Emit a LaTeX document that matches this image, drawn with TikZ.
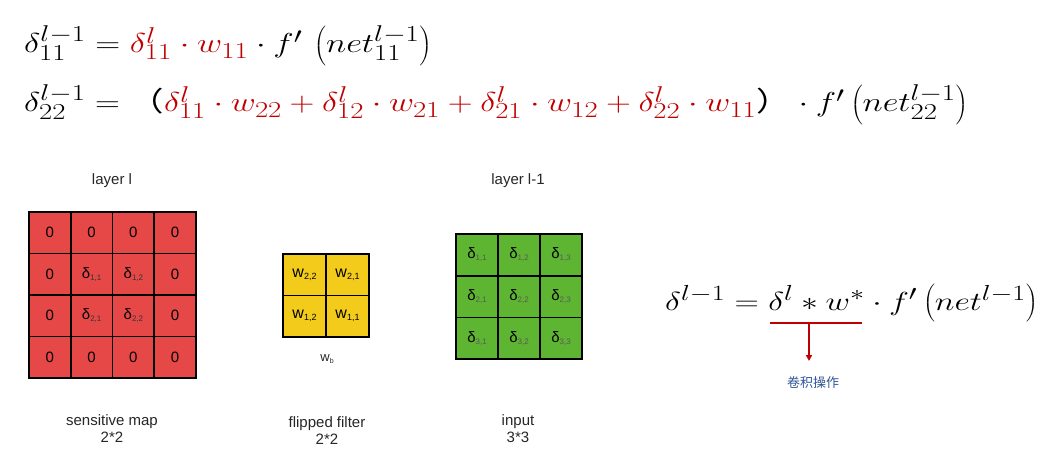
\documentclass[tikz,border=0pt]{standalone}
\usepackage{fontspec}
\usepackage{graphicx}
\setsansfont{Liberation Sans}
\newfontfamily\cjkfont{Noto Sans CJK SC}
\usetikzlibrary{arrows.meta}

\definecolor{mapred}{HTML}{E64848}
\definecolor{filteryellow}{HTML}{F2CB1B}
\definecolor{inputgreen}{HTML}{5EB532}
\definecolor{eqred}{HTML}{C00000}
\definecolor{noteblue}{HTML}{2E5597}

% delta / weight with a small lowered index
\newcommand{\dcell}[2][black!80]{δ\raisebox{-2pt}{\fontsize{8}{8}\selectfont\color{#1}#2}}
\newcommand{\wcell}[1]{w\raisebox{-2pt}{\fontsize{9}{9}\selectfont #1}}
\newcommand{\eqsize}{\fontsize{24.88}{30}\selectfont}

\tikzset{
  cell/.style={draw=black, line width=1.8pt, inner sep=0pt, outer sep=0pt,
    font=\sffamily\fontsize{15}{15}\selectfont},
  mapcell/.style={cell, fill=mapred, minimum width=41.75pt, minimum height=41.5pt},
  filtercell/.style={cell, fill=filteryellow, minimum width=43pt, minimum height=41.5pt,
    font=\sffamily\fontsize{16}{16}\selectfont},
  inputcell/.style={cell, fill=inputgreen, minimum width=42pt, minimum height=41.7pt},
  caption/.style={font=\sffamily\fontsize{15}{17}\selectfont, align=center, text=black!85}
}

\begin{document}
\begin{tikzpicture}[x=1pt, y=-1pt]
    \useasboundingbox (0,0) rectangle (1057,457);
    % Equations on top
    \node[anchor=base west, inner sep=0pt] (eqA) at (24,53) {\eqsize\scalebox{1.39}[1.1]{%
      $\delta^{l-1}_{11} = {\color{eqred}\delta^{l}_{11}\cdot w_{11}}\cdot f'\,\left(net^{l-1}_{11}\right)$}};
    \node[anchor=base west, inner sep=0pt] (eqB) at (24,112) {\eqsize\scalebox{1.385}[1.1]{%
      $\delta^{l-1}_{22} = \mbox{\cjkfont （}{\color{eqred}\delta^{l}_{11}\cdot w_{22}+\delta^{l}_{12}\cdot w_{21}
      +\delta^{l}_{21}\cdot w_{12}+\delta^{l}_{22}\cdot w_{11}}\mbox{\cjkfont ）}\cdot f'\left(net^{l-1}_{22}\right)$}};
    % Sensitive map (padded)
    \node[caption] (mapTop) at (112,181) {layer l};
    \foreach \t [count=\i from 0] in {0,0,0,0, 0,{\dcell{1,1}},{\dcell{1,2}},0,
        0,{\dcell{2,1}},{\dcell{2,2}},0, 0,0,0,0}{
      \pgfmathtruncatemacro\r{div(\i,4)}
      \pgfmathtruncatemacro\c{mod(\i,4)}
      \node[mapcell] (m\r\c) at (49.9+41.75*\c, 232.75+41.5*\r) {\t};
    }
    \node[caption] (mapBot) at (112,429) {sensitive map\\2*2};
    % Flipped filter
    \foreach \t [count=\i from 0] in {{\wcell{2,2}},{\wcell{2,1}},{\wcell{1,2}},{\wcell{1,1}}}{
      \pgfmathtruncatemacro\r{div(\i,2)}
      \pgfmathtruncatemacro\c{mod(\i,2)}
      \node[filtercell] (f\r\c) at (304.5+43*\c, 274.75+41.5*\r) {\t};
    }
    \node[caption, font=\sffamily\fontsize{13}{13}\selectfont] (wb) at (327,359) {w\raisebox{-2pt}{\fontsize{7}{7}\selectfont b}};
    \node[caption] (filterBot) at (327,431) {flipped filter\\2*2};
    % Input (layer l-1)
    \node[caption] (inTop) at (518,181) {layer l-1};
    \foreach \t [count=\i from 0] in {{\dcell[black!65]{1,1}},{\dcell[black!65]{1,2}},{\dcell[black!65]{1,3}},
        {\dcell[black!65]{2,1}},{\dcell[black!65]{2,2}},{\dcell[black!65]{2,3}},
        {\dcell[black!65]{3,1}},{\dcell[black!65]{3,2}},{\dcell[black!65]{3,3}}}{
      \pgfmathtruncatemacro\r{div(\i,3)}
      \pgfmathtruncatemacro\c{mod(\i,3)}
      \node[inputcell] (g\r\c) at (477+42*\c, 254.85+41.7*\r) {\t};
    }
    \node[caption] (inBot) at (518,429) {input\\3*3};
    % Convolution form
    \node[anchor=base west, inner sep=0pt] (eqC) at (665,310) {\eqsize\scalebox{1.355}[1.05]{%
      $\delta^{l-1} = \delta^{l} * w^{*}\cdot f'\left(net^{l-1}\right)$}};
    \coordinate (ulA) at (770,323);
    \coordinate (ulB) at (862,323);
    \coordinate (ulM) at (809,323);
    \coordinate (arrEnd) at (809,361);
    \node[font=\cjkfont\fontsize{13}{13}\selectfont, text=noteblue] (conv) at (813,383) {卷积操作};
    \draw[eqred, line width=1.6pt] (ulA) -- (ulB);
    \draw[eqred, line width=1.6pt, -{Triangle[length=6pt, width=6pt]}] (ulM) -- (arrEnd);
\end{tikzpicture}
\end{document}
